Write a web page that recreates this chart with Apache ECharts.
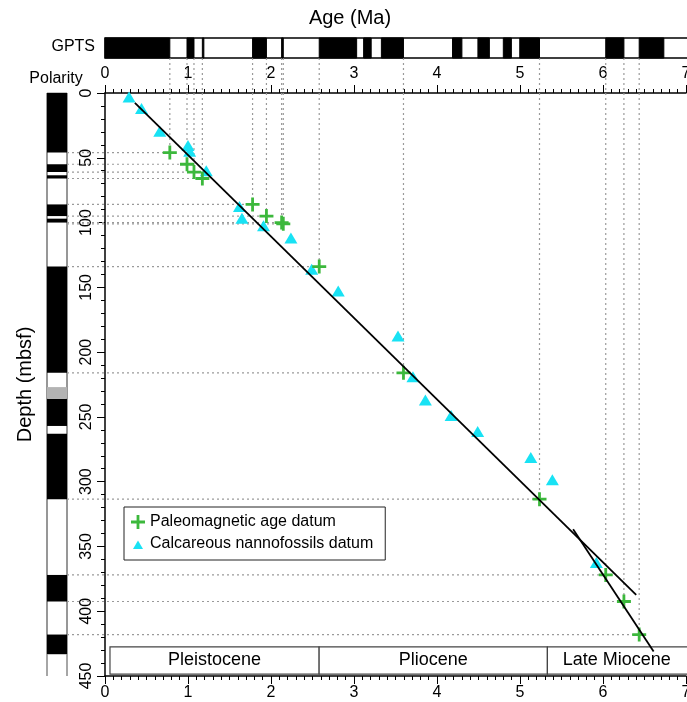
<!DOCTYPE html>
<html>
<head>
<meta charset="utf-8">
<script src="https://cdn.jsdelivr.net/npm/echarts@6/dist/echarts.min.js"></script>
<style>
html,body{margin:0;padding:0;background:#fff;}
#chart{width:687px;height:702px;}
</style>
</head>
<body>
<div id="chart"></div>
<script>
// ---- Data ----
// Paleomagnetic age datums (Ma, mbsf)
const paleoAge   = [0.781, 0.988, 1.072, 1.173, 1.778, 1.945, 2.128, 2.148, 2.581, 3.596, 5.235, 6.033, 6.252, 6.436];
const paleoDepth = [46, 55, 61, 66, 86, 95, 100, 101, 134, 216, 313.5, 372, 392.5, 418];
// Calcareous nannofossil datums (Ma, mbsf)
const nannoAge   = [0.29, 0.44, 0.66, 1.00, 1.02, 1.22, 1.62, 1.65, 1.91, 2.24, 2.49, 2.81, 3.53, 3.71, 3.86, 4.17, 4.49, 5.13, 5.39, 5.92];
const nannoDepth = [3, 12, 29.5, 40.5, 45, 60, 87.7, 96.7, 102.4, 112, 136, 152.8, 187.5, 219, 237, 249, 261.3, 281.4, 298.6, 362.4];
// Sedimentation-rate lines (Ma, mbsf)
const rateLine1 = [[0.36, 7.7], [6.40, 387.3]];
const rateLine2 = [[5.64, 336.7], [6.61, 431]];
const rateLabels = [[2.0, 121, '61.8 m/Myr'], [5.63, 403.5, '115.6 m/Myr']];
// GPTS normal-polarity chrons (Ma)
const gptsNormal = [[0,0.781],[0.988,1.072],[1.173,1.185],[1.778,1.945],[2.128,2.148],[2.581,3.032],[3.116,3.207],[3.330,3.596],[4.187,4.300],[4.493,4.631],[4.799,4.896],[4.997,5.235],[6.033,6.252],[6.436,6.733]];
// Core polarity (mbsf)
const polNormal = [[0,46],[55,61],[63.5,66],[86,95],[97,100],[134,216],[236,257],[263,313.5],[372,392.5],[418,433]];
const polUncertain = [[227,236]];
// Epochs (Ma)
const epochNames = ['Pleistocene', 'Pliocene', 'Late Miocene'];
const epochStart = [0.06, 2.58, 5.33];
const epochEnd   = [2.58, 5.33, 7.05];

const FONT = 'Liberation Sans, Arial, Helvetica, sans-serif';
const chart = echarts.init(document.getElementById('chart'), null, {renderer: 'canvas'});

const paleoData = paleoAge.map((a, i) => [a, paleoDepth[i]]);
const nannoData = nannoAge.map((a, i) => [a, nannoDepth[i]]);
const epochData = epochNames.map((n, i) => [epochStart[i], epochEnd[i], n]);

const crossPath = 'path://M4,0 H6 V4 H10 V6 H6 V10 H4 V6 H0 V4 H4 Z';
const GREEN = '#3cb83c';
const CYAN = '#18e2f4';

const axisCommon = {
  type: 'value', min: 0, max: 7, interval: 1,
  axisLine: {lineStyle: {color: '#000', width: 1.5}},
  axisTick: {show: true, inside: false, length: 8, lineStyle: {color: '#000', width: 1}},
  minorTick: {show: true, splitNumber: 10, length: 4, lineStyle: {color: '#000', width: 1}},
  splitLine: {show: false},
  axisLabel: {color: '#000', fontSize: 16, fontFamily: FONT}
};

const option = {
  animation: false,
  backgroundColor: '#fff',
  textStyle: {fontFamily: FONT},
  grid: [
    {left: 105, right: 1, top: 93, bottom: 26, outerBoundsMode: 'none', containLabel: false},   // main
    {left: 105, right: 1, top: 38, height: 20, outerBoundsMode: 'none', containLabel: false},   // GPTS
    {left: 47, width: 20, top: 93, bottom: 26, outerBoundsMode: 'none', containLabel: false}    // polarity column
  ],
  xAxis: [
    Object.assign({}, axisCommon, {gridIndex: 0, position: 'top', axisLabel: Object.assign({}, axisCommon.axisLabel, {margin: 11})}),
    Object.assign({}, axisCommon, {gridIndex: 0, position: 'bottom', axisLabel: Object.assign({}, axisCommon.axisLabel, {margin: 9})}),
    {type: 'value', gridIndex: 1, min: 0, max: 7, show: false},
    {type: 'value', gridIndex: 2, min: 0, max: 1, show: false}
  ],
  yAxis: [
    {
      type: 'value', gridIndex: 0, inverse: true, min: 0, max: 450, interval: 50,
      name: 'Depth (mbsf)', nameLocation: 'middle', nameGap: 70,
      nameTextStyle: {fontSize: 20, color: '#000', fontFamily: FONT},
      axisLine: {lineStyle: {color: '#000', width: 1.5}},
      axisTick: {show: true, inside: false, length: 8, lineStyle: {color: '#000', width: 1}},
      minorTick: {show: true, splitNumber: 5, length: 4, lineStyle: {color: '#000', width: 1}},
      splitLine: {show: false},
      axisLabel: {color: '#000', fontSize: 16, rotate: 90, margin: 10, fontFamily: FONT}
    },
    {type: 'value', gridIndex: 1, min: 0, max: 1, show: false},
    {type: 'value', gridIndex: 2, min: 0, max: 450, inverse: true, show: false}
  ],
  legend: {
    orient: 'vertical', left: 124, top: 507,
    backgroundColor: '#fff',
    borderColor: '#222', borderWidth: 1,
    padding: [7, 12, 8, 7], itemGap: 6,
    itemWidth: 14, itemHeight: 14,
    textStyle: {fontSize: 16, color: '#000', fontFamily: FONT},
    data: [
      {name: 'Paleomagnetic age datum', icon: crossPath},
      {name: 'Calcareous nannofossils datum', icon: 'path://M0,0 M14,14 M2,12 L7,3.5 L12,12 Z'}
    ]
  },
  graphic: [
    {type: 'text', x: 350, y: 18, style: {text: 'Age (Ma)', align: 'center', verticalAlign: 'middle', fill: '#000', font: '20px ' + FONT}},
    {type: 'text', x: 95, y: 47, style: {text: 'GPTS', align: 'right', verticalAlign: 'middle', fill: '#000', font: '16px ' + FONT}},
    {type: 'text', x: 56, y: 79, style: {text: 'Polarity', align: 'center', verticalAlign: 'middle', fill: '#000', font: '16px ' + FONT}}
  ],
  series: [
    // GPTS bar outline/background
    {
      type: 'custom', xAxisIndex: 2, yAxisIndex: 1, z: 1, silent: true,
      data: [[0, 7.05]],
      renderItem: function (params, api) {
        const p0 = api.coord([api.value(0), 1]);
        const p1 = api.coord([api.value(1), 0]);
        return {type: 'rect', shape: {x: p0[0], y: p0[1], width: p1[0] - p0[0], height: p1[1] - p0[1]},
                style: {fill: '#fff', stroke: '#000', lineWidth: 1.5}};
      }
    },
    // GPTS normal chrons
    {
      type: 'custom', xAxisIndex: 2, yAxisIndex: 1, z: 2, silent: true,
      data: gptsNormal,
      renderItem: function (params, api) {
        const p0 = api.coord([api.value(0), 1]);
        const p1 = api.coord([api.value(1), 0]);
        return {type: 'rect', shape: {x: p0[0], y: p0[1], width: Math.max(1.5, p1[0] - p0[0]), height: p1[1] - p0[1]},
                style: {fill: '#000', stroke: '#000', lineWidth: 1}};
      }
    },
    // Polarity column outline
    {
      type: 'custom', xAxisIndex: 3, yAxisIndex: 2, z: 1, silent: true,
      data: [[0, 450]],
      renderItem: function (params, api) {
        const a = api.coord([0, api.value(0)]);
        const b = api.coord([1, api.value(1)]);
        const c = api.coord([1, 433]);
        return {type: 'group', children: [
          {type: 'rect', shape: {x: a[0], y: a[1], width: b[0] - a[0], height: c[1] - a[1]}, style: {fill: '#fff', stroke: '#888', lineWidth: 1}},
          {type: 'line', shape: {x1: a[0], y1: a[1], x2: a[0], y2: b[1]}, style: {stroke: '#888', lineWidth: 1.5}},
          {type: 'line', shape: {x1: b[0], y1: a[1], x2: b[0], y2: b[1]}, style: {stroke: '#888', lineWidth: 1.5}}
        ]};
      }
    },
    // Polarity normal
    {
      type: 'custom', xAxisIndex: 3, yAxisIndex: 2, z: 2, silent: true,
      data: polNormal,
      renderItem: function (params, api) {
        const p0 = api.coord([0, api.value(0)]);
        const p1 = api.coord([1, api.value(1)]);
        return {type: 'rect', shape: {x: p0[0], y: p0[1], width: p1[0] - p0[0], height: p1[1] - p0[1]}, style: {fill: '#000'}};
      }
    },
    // Polarity uncertain
    {
      type: 'custom', xAxisIndex: 3, yAxisIndex: 2, z: 2, silent: true,
      data: polUncertain,
      renderItem: function (params, api) {
        const p0 = api.coord([0, api.value(0)]);
        const p1 = api.coord([1, api.value(1)]);
        return {type: 'rect', shape: {x: p0[0], y: p0[1], width: p1[0] - p0[0], height: p1[1] - p0[1]}, style: {fill: '#b3b3b3'}};
      }
    },
    // Dotted guide lines to paleomagnetic datums
    {
      type: 'custom', xAxisIndex: 0, yAxisIndex: 0, z: 1, silent: true, clip: false,
      data: paleoData,
      renderItem: function (params, api) {
        const p = api.coord([api.value(0), api.value(1)]);
        const top = api.coord([api.value(0), 0]);
        const left = api.coord([0, api.value(1)]);
        const st = {stroke: '#9a9a9a', lineWidth: 1.2, lineDash: [2, 3]};
        return {type: 'group', children: [
          {type: 'line', shape: {x1: p[0], y1: top[1] - 35, x2: p[0], y2: p[1]}, style: st},
          {type: 'line', shape: {x1: left[0] - 38, y1: p[1], x2: p[0], y2: p[1]}, style: st}
        ]};
      }
    },
    // Epoch boxes
    {
      type: 'custom', xAxisIndex: 0, yAxisIndex: 0, z: 2, silent: true, clip: false,
      data: epochData,
      renderItem: function (params, api) {
        const p0 = api.coord([api.value(0), 427.5]);
        const p1 = api.coord([api.value(1), 448.5]);
        return {type: 'group', children: [
          {type: 'rect', shape: {x: p0[0], y: p0[1], width: p1[0] - p0[0], height: p1[1] - p0[1]},
           style: {fill: '#fff', stroke: '#444', lineWidth: 1.2}},
          {type: 'text', style: {text: epochNames[params.dataIndex], x: (p0[0] + Math.min(p1[0], 686)) / 2, y: (p0[1] + p1[1]) / 2,
            align: 'center', verticalAlign: 'middle', font: '18px ' + FONT, fill: '#000'}}
        ]};
      }
    },
    {
      name: 'Calcareous nannofossils datum', type: 'scatter', xAxisIndex: 0, yAxisIndex: 0, z: 3,
      symbol: 'triangle', symbolSize: [13, 11],
      itemStyle: {color: CYAN, opacity: 1},
      data: nannoData
    },
    {
      name: 'Paleomagnetic age datum', type: 'scatter', xAxisIndex: 0, yAxisIndex: 0, z: 4,
      symbol: crossPath, symbolSize: 14,
      itemStyle: {color: GREEN, opacity: 1},
      data: paleoData
    },
    {
      name: 'rate1', type: 'line', xAxisIndex: 0, yAxisIndex: 0, z: 5, silent: true,
      showSymbol: false, symbol: 'none', lineStyle: {color: '#000', width: 1.8},
      data: rateLine1
    },
    {
      name: 'rate2', type: 'line', xAxisIndex: 0, yAxisIndex: 0, z: 5, silent: true,
      showSymbol: false, symbol: 'none', lineStyle: {color: '#000', width: 1.8},
      data: rateLine2
    },
    {
      name: 'rateLabels', type: 'scatter', xAxisIndex: 0, yAxisIndex: 0, z: 6, silent: true,
      symbol: 'none', symbolSize: 0,
      label: {show: true, position: 'inside', formatter: p => p.data[2], fontSize: 16, color: '#111', fontFamily: FONT},
      data: rateLabels
    }
  ]
};
chart.setOption(option);
</script>
</body>
</html>
